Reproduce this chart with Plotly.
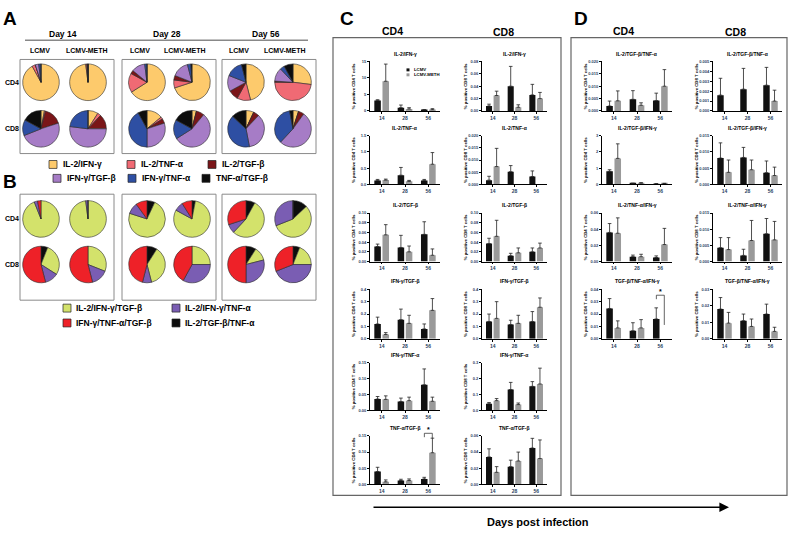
import plotly.graph_objects as go

W, H = 800, 533
FONT = "Arial, Liberation Sans, sans-serif"


def px(x):
    return x / W


def py(y):
    return 1 - y / H


# ---------------- Panel A / B pie data (percent, clockwise from 12 o'clock) ----------------
DAYS_HDR = ["Day 14", "Day 28", "Day 56"]
GROUPS = ["LCMV", "LCMV-METH"]
CELLS = ["CD4", "CD8"]

A_LABELS = ["IL-2/IFN-γ", "IL-2/TNF-α", "IL-2/TGF-β", "IFN-γ/TGF-β", "IFN-γ/TNF-α", "TNF-α/TGF-β"]
A_COLORS = ["#FDCA6C", "#F06A74", "#7A1518", "#A67CC6", "#2E4FA3", "#0D0D0D"]
# order of pies: D14 LCMV, D14 METH, D28 LCMV, D28 METH, D56 LCMV, D56 METH
A_CD4 = [
    [92, 3, 0, 3, 2, 0],
    [98, 1, 1, 0, 0, 0],
    [66, 17, 3, 12, 2, 0],
    [70, 7, 4, 15, 3, 1],
    [46, 12, 9, 14, 15, 4],
    [27, 48, 1, 12, 4, 8],
]
A_CD8 = [
    [3, 1, 16, 49, 14, 17],
    [9, 3, 13, 52, 23, 0],
    [14, 2, 4, 30, 42, 8],
    [4, 0, 7, 55, 17, 17],
    [7, 0, 5, 35, 40, 13],
    [5, 0, 5, 52, 35, 3],
]

B_LABELS = ["IL-2/TGF-β/TNF-α", "IL-2/IFN-γ/TGF-β", "IL-2/IFN-γ/TNF-α", "IFN-γ/TNF-α/TGF-β"]
B_COLORS = ["#0D0D0D", "#D3E26B", "#7A5DB3", "#EE2128"]
B_CD4 = [
    [0, 94, 3, 3],
    [0, 98, 2, 0],
    [7, 73, 10, 10],
    [3, 80, 8, 9],
    [8, 54, 8, 30],
    [13, 56, 31, 0],
]
B_CD8 = [
    [6, 28, 12, 54],
    [0, 31, 15, 54],
    [9, 37, 8, 46],
    [0, 25, 33, 42],
    [9, 12, 29, 50],
    [6, 19, 44, 31],
]

# ---------------- Panel C / D bar data ----------------
DAYS = ["14", "28", "56"]
C_TITLES = ["IL-2/IFN-γ", "IL-2/TNF-α", "IL-2/TGF-β", "IFN-γ/TGF-β", "IFN-γ/TNF-α", "TNF-α/TGF-β"]
D_TITLES = ["IL-2/TGF-β/TNF-α", "IL-2/TGF-β/IFN-γ", "IL-2/TNF-α/IFN-γ", "TGF-β/TNF-α/IFN-γ"]

C_CD4_LCMV = [[3.2, 1.0, 0.3], [0.12, 0.28, 0.12], [0.031, 0.029, 0.056],
              [0.12, 0.155, 0.08], [0.035, 0.027, 0.080], [0.040, 0.012, 0.017]]
C_CD4_LCMV_TOP = [[3.4, 1.8, 0.4], [0.15, 0.52, 0.15], [0.036, 0.054, 0.082],
                  [0.175, 0.24, 0.12], [0.043, 0.038, 0.130], [0.053, 0.016, 0.022]]
C_CD4_METH = [[9.0, 0.6, 0.4], [0.13, 0.09, 0.62], [0.055, 0.020, 0.013],
              [0.035, 0.125, 0.23], [0.034, 0.030, 0.028], [0.008, 0.012, 0.098]]
C_CD4_METH_TOP = [[14.2, 1.0, 0.7], [0.16, 0.12, 0.98], [0.076, 0.032, 0.026],
                  [0.05, 0.19, 0.325], [0.045, 0.041, 0.041], [0.014, 0.017, 0.143]]
C_CD4_YMAX = [15, 1.5, 0.10, 0.4, 0.15, 0.15]
C_CD4_DTICK = [5, 0.5, 0.02, 0.1, 0.05, 0.05]
C_CD4_DEC = [0, 1, 2, 1, 2, 2]

C_CD8_LCMV = [[0.008, 0.040, 0.026], [0.0017, 0.0052, 0.0032], [0.037, 0.012, 0.020],
              [0.14, 0.115, 0.14], [0.04, 0.13, 0.15], [0.034, 0.022, 0.045]]
C_CD8_LCMV_TOP = [[0.011, 0.072, 0.043], [0.0033, 0.0077, 0.0055], [0.048, 0.017, 0.028],
                  [0.20, 0.15, 0.22], [0.048, 0.175, 0.18], [0.044, 0.030, 0.057]]
C_CD8_METH = [[0.025, 0.006, 0.020], [0.0073, None, None], [0.052, 0.018, 0.028],
              [0.165, 0.125, 0.255], [0.06, 0.035, 0.165], [0.015, 0.029, 0.032]]
C_CD8_METH_TOP = [[0.032, 0.010, 0.030], [0.0148, None, None], [0.085, 0.028, 0.038],
                  [0.30, 0.19, 0.33], [0.073, 0.045, 0.265], [0.022, 0.040, 0.055]]
C_CD8_YMAX = [0.08, 0.020, 0.10, 0.4, 0.3, 0.06]
C_CD8_DTICK = [0.02, 0.005, 0.02, 0.1, 0.1, 0.02]
C_CD8_DEC = [2, 3, 2, 1, 1, 2]

D_CD4_LCMV = [[0.002, 0.0047, 0.0042], [0.8, 0.05, 0.03], [0.036, 0.006, 0.005], [0.0245, 0.0065, 0.016]]
D_CD4_LCMV_TOP = [[0.004, 0.0082, 0.0072], [0.9, 0.07, 0.04], [0.047, 0.008, 0.007], [0.0325, 0.013, 0.025]]
D_CD4_METH = [[0.0041, 0.0023, 0.010], [1.6, 0.07, 0.04], [0.035, 0.006, 0.021], [0.0088, 0.0088, None]]
D_CD4_METH_TOP = [[0.0081, 0.0033, 0.0167], [2.5, 0.1, 0.06], [0.054, 0.009, 0.041], [0.0145, 0.0155, None]]
D_CD4_YMAX = [0.020, 3, 0.06, 0.04]
D_CD4_DTICK = [0.005, 1, 0.02, 0.01]
D_CD4_DEC = [3, 0, 2, 2]

D_CD8_LCMV = [[0.0016, 0.0022, 0.0026], [0.0081, 0.0083, 0.0036], [0.0043, 0.0019, 0.0086], [0.018, 0.011, 0.015]]
D_CD8_LCMV_TOP = [[0.0033, 0.0043, 0.0044], [0.0128, 0.0114, 0.0072], [0.0074, 0.0038, 0.0133], [0.025, 0.015, 0.021]]
D_CD8_METH = [[None, None, 0.0010], [0.0037, 0.0045, 0.0027], [0.0037, 0.0065, 0.0067], [0.0095, 0.0075, 0.0045]]
D_CD8_METH_TOP = [[None, None, 0.0021], [0.0075, 0.0075, 0.0053], [0.0074, 0.0127, 0.0124], [0.016, 0.012, 0.007]]
D_CD8_YMAX = [0.005, 0.015, 0.015, 0.03]
D_CD8_DTICK = [0.001, 0.005, 0.005, 0.01]
D_CD8_DEC = [3, 3, 3, 2]

# significance brackets: (panel, cell, row, bracket top, left leg end, right leg end)
SIG = [("C", "CD4", 5, 0.158, 0.146, 0.143), ("D", "CD4", 3, 0.0352, 0.032, 0.0112)]

# ---------------- layout geometry (pixels) ----------------
PIE_R = 18.5
PIE_X = [41, 88, 147, 192, 246, 293]
A_PIE_Y = [80, 127]
B_PIE_Y = [218, 264]
BOX_X = [(20, 114), (122, 216), (222, 316)]
A_BOX_Y = (57, 152)
B_BOX_Y = (193, 300)

ROW_Y = [(59, 109), (134, 183), (212, 261), (289, 339), (363, 411), (437, 486)]
COL_X = {("C", "CD4"): (370, 440), ("C", "CD8"): (482, 547),
         ("D", "CD4"): (602, 672), ("D", "CD8"): (713, 782)}

fig = go.Figure()
shapes = []
annotations = []


def text(x, y, s, size, bold=True, xanchor="center", angle=0, color="black"):
    annotations.append(dict(
        x=px(x), y=py(y), xref="paper", yref="paper", text=s, showarrow=False,
        xanchor=xanchor, yanchor="middle", textangle=angle,
        font=dict(family=FONT, size=size, color=color, weight="bold" if bold else "normal")))


def rect(x0, y0, x1, y1, color, width, fill=None):
    shapes.append(dict(type="rect", xref="paper", yref="paper",
                       x0=px(x0), x1=px(x1), y0=py(y1), y1=py(y0),
                       line=dict(color=color, width=width),
                       fillcolor=fill if fill else "rgba(0,0,0,0)"))


# ---------------- pies ----------------
def add_pies(data_rows, labels, colors, cy):
    for i, vals in enumerate(data_rows):
        cx = PIE_X[i]
        fig.add_trace(go.Pie(
            values=vals, labels=labels, sort=False, direction="clockwise", rotation=0,
            marker=dict(colors=colors, line=dict(color="#2a2a2a", width=0.6)),
            textinfo="none", hoverinfo="label+percent", showlegend=False,
            domain=dict(x=[px(cx - PIE_R), px(cx + PIE_R)], y=[py(cy + PIE_R), py(cy - PIE_R)])))


add_pies(A_CD4, A_LABELS, A_COLORS, A_PIE_Y[0])
add_pies(A_CD8, A_LABELS, A_COLORS, A_PIE_Y[1])
add_pies(B_CD4, B_LABELS, B_COLORS, B_PIE_Y[0])
add_pies(B_CD8, B_LABELS, B_COLORS, B_PIE_Y[1])

for (x0, x1) in BOX_X:
    rect(x0, A_BOX_Y[0], x1, A_BOX_Y[1], "#8a8a8a", 1)
    rect(x0, B_BOX_Y[0], x1, B_BOX_Y[1], "#8a8a8a", 1)

# headers of A
text(10, 16, "A", 19)
text(10, 180, "B", 19)
for x, s in zip([63, 167, 266], DAYS_HDR):
    text(x, 31, s, 8.5)
shapes.append(dict(type="line", xref="paper", yref="paper", x0=px(25), x1=px(308),
                   y0=py(37.5), y1=py(37.5), line=dict(color="#888", width=1.5)))
for x, s in zip([40, 87, 140, 185, 239, 285], GROUPS * 3):
    text(x, 48, s, 7)
for cy, s in zip(A_PIE_Y, CELLS):
    text(12, cy, s, 7)
for cy, s in zip(B_PIE_Y, CELLS):
    text(12, cy, s, 7)

# legend A
A_LEG_POS = [(49, 163), (127, 163), (208, 163), (53, 177), (128, 177), (202, 177)]
for (x, y), lab, col in zip(A_LEG_POS, A_LABELS, A_COLORS):
    rect(x, y - 4, x + 8, y + 4, "#222", 0.7, col)
    text(x + 12, y, lab, 8.5, xanchor="left")
# legend B (order as in the reference)
B_LEG_ORDER = [1, 2, 3, 0]
B_LEG_POS = [(63, 308), (172, 308), (63, 323), (172, 323)]
for (x, y), k in zip(B_LEG_POS, B_LEG_ORDER):
    rect(x, y - 4, x + 8, y + 4, "#222", 0.7, B_COLORS[k])
    text(x + 11, y, B_LABELS[k], 8.5, xanchor="left")

# ---------------- bars ----------------
axis_i = [0]
layout_axes = {}


def add_bar_panel(panel, cell, titles, lcmv, lcmv_top, meth, meth_top, ymaxs, dticks, decs):
    x0, x1 = COL_X[(panel, cell)]
    for r, title in enumerate(titles):
        axis_i[0] += 1
        k = axis_i[0]
        xa, ya = f"x{k}", f"y{k}"
        y0, y1 = ROW_Y[r]
        for vals, tops, col, name in [(lcmv[r], lcmv_top[r], "#111111", "LCMV"),
                                      (meth[r], meth_top[r], "#9a9a9a", "LCMV-METH")]:
            err = [None if v is None else t - v for v, t in zip(vals, tops)]
            fig.add_trace(go.Bar(
                x=DAYS, y=vals, name=name, marker=dict(color=col, line=dict(width=0)),
                error_y=dict(type="data", array=err, arrayminus=[0] * len(err), symmetric=False,
                             color="#222", thickness=0.8, width=1.8),
                xaxis=xa, yaxis=ya, showlegend=False))
        n = int(round(ymaxs[r] / dticks[r]))
        tv = [i * dticks[r] for i in range(n + 1)]
        tt = [f"{v:.{decs[r]}f}" for v in tv]
        layout_axes[f"xaxis{k}"] = dict(
            domain=[px(x0), px(x1)], anchor=ya, type="category", range=[-0.5, 2.5],
            showline=True, linecolor="black", linewidth=0.8, ticks="outside", ticklen=2,
            tickwidth=0.8, tickcolor="black", showgrid=False, zeroline=False,
            tickfont=dict(family=FONT, size=5, weight="bold"), fixedrange=True)
        layout_axes[f"yaxis{k}"] = dict(
            domain=[py(y1), py(y0)], anchor=xa, range=[0, ymaxs[r]], tickvals=tv, ticktext=tt,
            showline=True, linecolor="black", linewidth=0.8, ticks="outside", ticklen=2,
            tickwidth=0.8, tickcolor="black", showgrid=False, zeroline=False,
            tickfont=dict(family=FONT, size=4, weight="bold"), fixedrange=True)
        text((x0 + x1) / 2, y0 - 8, title, 5)
        text(x0 - 17, (y0 + y1) / 2, f"% positive {cell} T cells", 4.3, angle=-90)
        for (sp, sc, sr, top, lleg, rleg) in SIG:
            if sp == panel and sc == cell and sr == r:
                h = y1 - y0
                ymax = ymaxs[r]
                unit = (x1 - x0) / 3.0
                xl = x0 + unit * 2.5 - unit * 0.17
                xr = x0 + unit * 2.5 + unit * 0.17
                yt = y1 - top / ymax * h
                yl = y1 - lleg / ymax * h
                yr = y1 - rleg / ymax * h
                for (ax0, ay0, ax1, ay1) in [(xl, yl, xl, yt), (xl, yt, xr, yt), (xr, yt, xr, yr)]:
                    shapes.append(dict(type="line", xref="paper", yref="paper",
                                       x0=px(ax0), x1=px(ax1), y0=py(ay0), y1=py(ay1),
                                       line=dict(color="#222", width=0.7)))
                text((xl + xr) / 2, yt - 4, "*", 7)


add_bar_panel("C", "CD4", C_TITLES, C_CD4_LCMV, C_CD4_LCMV_TOP, C_CD4_METH, C_CD4_METH_TOP,
              C_CD4_YMAX, C_CD4_DTICK, C_CD4_DEC)
add_bar_panel("C", "CD8", C_TITLES, C_CD8_LCMV, C_CD8_LCMV_TOP, C_CD8_METH, C_CD8_METH_TOP,
              C_CD8_YMAX, C_CD8_DTICK, C_CD8_DEC)
add_bar_panel("D", "CD4", D_TITLES, D_CD4_LCMV, D_CD4_LCMV_TOP, D_CD4_METH, D_CD4_METH_TOP,
              D_CD4_YMAX, D_CD4_DTICK, D_CD4_DEC)
add_bar_panel("D", "CD8", D_TITLES, D_CD8_LCMV, D_CD8_LCMV_TOP, D_CD8_METH, D_CD8_METH_TOP,
              D_CD8_YMAX, D_CD8_DTICK, D_CD8_DEC)

# small bar legend inside first C plot
for y, col, s in [(67.5, "#111111", "LCMV"), (72.5, "#9a9a9a", "LCMV-METH")]:
    rect(406.5, y - 1.5, 409.5, y + 1.5, col, 0, col)
    text(412, y, s, 4.3, xanchor="left")

# panel C / D frames and headers
rect(333, 35, 561, 497, "#666", 1.2)
rect(571, 35, 787, 497, "#666", 1.2)
text(347, 16, "C", 19)
text(581, 16, "D", 19)
text(392, 28, "CD4", 10.5)
text(503, 29, "CD8", 10.5)
text(623, 28, "CD4", 10.5)
text(735, 29, "CD8", 10.5)

# arrow and label
annotations.append(dict(x=px(729), y=py(509), xref="paper", yref="paper", text="",
                        showarrow=True, ax=-(729 - 372), ay=0, axref="pixel", ayref="pixel",
                        arrowhead=2, arrowsize=1.2, arrowwidth=1.6, arrowcolor="black"))
text(538, 524, "Days post infection", 11)

fig.update_layout(
    width=W, height=H, margin=dict(l=0, r=0, t=0, b=0),
    paper_bgcolor="white", plot_bgcolor="white",
    barmode="group", bargap=0.3, bargroupgap=0.2,
    shapes=shapes, annotations=annotations, showlegend=False,
    font=dict(family=FONT), **layout_axes)

fig.write_html("out.html", config={"displayModeBar": False},
               post_script="document.body.style.margin='0';document.body.style.overflow='hidden';")
